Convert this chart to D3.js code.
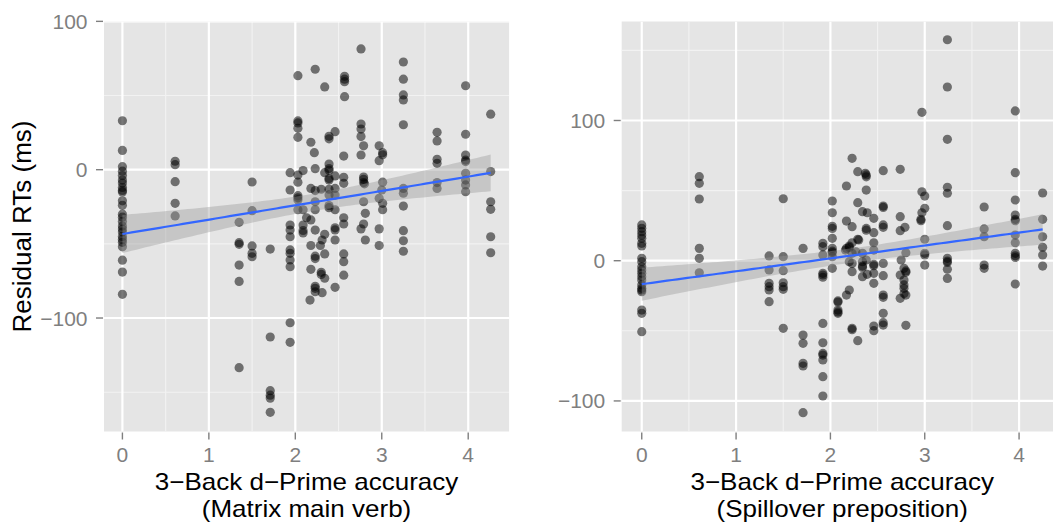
<!DOCTYPE html>
<html><head><meta charset="utf-8">
<script src="https://cdn.jsdelivr.net/npm/d3@7"></script>
<style>
body{margin:0;background:#fff}
svg{display:block}
text{font-family:"Liberation Sans",Arial,Helvetica,sans-serif}
</style>
</head><body>
<svg id="chart" width="1053" height="522"></svg>
<script>
// ---------- data ----------
const xTickValues = [0, 1, 2, 3, 4];
const yTickValues = [-100, 0, 100];
const xMinorValues = [0.5, 1.5, 2.5, 3.5];
const leftYMinor = [-150, -50, 50];
const rightYMinor = [-50, 50, 150];
const leftYDomain = [-176.5, 99.9];
const rightYDomain = [-121.8, 170.6];
const xTitleLine1 = "3\u2212Back d\u2212Prime accuracy";
const leftSubtitle = "(Matrix main verb)";
const rightSubtitle = "(Spillover preposition)";
const yTitle = "Residual RTs (ms)";

// [d-prime, residual RT] — Matrix main verb
const leftPoints = [
  [0,33],[0,13],[0,2],[0,-1],[0,-4],[0,-7],[0,-9],[0,-12],[0,-14],[0,-15],[0,-21],[0,-24],[0,-30],
  [0,-32],[0,-35],[0,-38],[0,-40],[0,-42],[0,-45],[0,-47],[0,-49],[0,-52],[0,-61],[0,-69],[0,-84],
  [0.61,5.7],[0.61,3.4],[0.61,-8.1],[0.61,-22.7],[0.61,-31.2],
  [1.35,-35.5],[1.35,-49.2],[1.35,-50.3],[1.35,-64.3],[1.35,-75.3],[1.35,-133.5],
  [1.5,-8.3],[1.5,-27.6],[1.5,-51.4],[1.5,-56.4],[1.5,-58.7],
  [1.71,-53.5],[1.71,-112.8],[1.71,-149],[1.71,-152],[1.71,-154],[1.71,-163.6],
  [1.94,-2],[1.94,-13.7],[1.94,-37.3],[1.94,-40.7],[1.94,-45.2],[1.94,-54.1],[1.94,-56.4],[1.94,-60.9],
  [1.94,-65.4],[1.94,-103.2],[1.94,-116.4],
  [2.03,63.4],[2.23,67.7],[2.34,55.8],[2.57,63],[2.57,61],[2.57,59.3],[2.57,49.2],[2.76,81.4],
  [2.03,32.9],[2.03,31.5],[2.03,27.9],[2.03,21.8],[2.18,18.5],[2.22,11.5],[2.39,22.5],[2.39,20.8],
  [2.46,25.6],[2.56,9.2],[2.76,30.8],[2.76,27.4],[2.76,22.3],[2.79,16.1],[2.76,9.9],[2.97,16.1],
  [3.01,11.5],[3.01,10],[2.97,6.1],
  [2.03,-8.4],[2.09,-0.6],[2.03,-3.6],[2.23,0.7],[2.34,-2.0],[2.39,3.8],[2.39,0.8],[2.39,-0.4],
  [2.39,-6.0],[2.39,-7.0],[2.46,-4.2],[2.56,-5.1],[2.56,-9.2],[2.79,-5.0],[2.79,-6.5],[2.79,-8.7],
  [2.8,-9.5],[3.01,-8.4],
  [2.03,-17.5],[2.03,-19],[2.03,-20.4],[2.18,-12.6],[2.23,-14.1],[2.3,-13.2],[2.39,-13.2],[2.46,-12.6],
  [2.46,-17.1],[2.39,-17.1],[3.0,-13.7],
  [2.03,-27.0],[2.09,-27.0],[2.13,-32.4],[2.18,-33.9],[2.23,-21.6],[2.23,-27.0],[2.39,-24.2],[2.39,-25.6],
  [2.46,-27.0],[2.56,-32.4],[2.56,-36.6],[2.79,-21.6],[2.81,-29.4],[2.79,-36.6],[2.76,-39.9],[2.81,-47.4],
  [2.97,-19.3],[3.01,-22.7],[3.01,-27.0],[2.97,-39.9],[2.97,-51.1],
  [2.09,-41.0],[2.09,-42.6],[2.09,-37.3],[2.23,-40.7],[2.34,-43.6],[2.31,-47.4],[2.29,-51.1],[2.18,-51.1],
  [2.46,-39.2],[2.46,-40.6],[2.46,-47.4],[2.56,-56.8],[2.56,-62.0],[2.56,-71.1],[2.34,-56.8],[2.23,-58.3],
  [2.23,-59.9],[2.18,-67.2],[2.3,-69.2],[2.3,-70.6],[2.34,-73.2],[2.23,-78.6],[2.23,-80.0],[2.23,-82.3],
  [2.31,-82.9],[2.46,-79.3],[2.17,-87.9],
  [3.25,72.6],[3.25,61.0],[3.25,50.4],[3.25,47.0],[3.25,30.3],[3.25,-12.6],[3.25,-15.9],[3.25,-24.5],
  [3.25,-41.1],[3.25,-47.9],[3.25,-55.0],
  [3.64,25.2],[3.64,19.4],[3.64,7.0],[3.64,4.3],[3.64,-8.7],[3.64,-12.6],
  [3.97,56.6],[3.97,23.9],[3.97,9.9],[3.97,6.5],[3.97,5.5],[3.97,-2.4],[3.97,-7.0],[3.97,-10.3],[3.97,-14.8],
  [4.26,37.4],[4.26,-1.3],[4.26,-21.6],[4.26,-26.7],[4.26,-45.2],[4.26,-56.0]
];

// [d-prime, residual RT] — Spillover preposition
const rightPoints = [
  [0,25.5],[0,23.1],[0,20.7],[0,18.3],[0,16.0],[0,12.4],[0,10.5],[0,1.7],[0,-0.7],[0,-4.3],[0,-6.6],
  [0,-9.0],[0,-11.4],[0,-13.8],[0,-17.3],[0,-19.7],[0,-20.9],[0,-22.1],[0,-35.2],[0,-37.5],[0,-50.6],
  [0.61,59.9],[0.61,55.2],[0.61,44.0],[0.61,8.8],[0.61,1.7],[0.61,-8.6],
  [1.35,3.4],[1.35,-6.6],[1.35,-16.1],[1.35,-18.5],[1.35,-20.9],[1.35,-29.2],
  [1.5,44.2],[1.5,2.9],[1.5,-7.1],[1.5,-15.7],[1.5,-18.5],[1.5,-20.4],[1.5,-48.2],
  [1.71,8.8],[1.71,-53.0],[1.71,-58.9],[1.71,-73.2],[1.71,-75.1],[1.71,-108.4],
  [1.92,12.4],[1.92,10.0],[1.92,4.1],[1.92,-9.0],[1.92,-10.2],[1.92,-11.8],[1.92,-44.7],[1.92,-58.5],
  [1.92,-66.1],[1.92,-67.3],[1.92,-70.8],[1.92,-82.7],[1.92,-96.5],
  [2.02,42.6],[2.02,34.2],[2.02,24.5],[2.02,23.0],[2.02,16.0],[2.02,8.8],[2.02,6.8],[2.02,5.8],[2.02,2.9],[2.02,-5.4],
  [2.08,-28.7],[2.08,-29.5],[2.08,-35.2],[2.08,-36.5],[2.08,-37.5],
  [2.23,73.0],[2.29,63.5],[2.37,62.3],[2.38,61.2],[2.38,59.8],[2.56,64.2],[2.74,65.2],[2.17,53.3],
  [2.38,50.4],[2.29,41.4],[2.56,38.0],[2.56,39.0],[2.97,49.2],[3.0,46.1],[3.0,37.4],[2.97,34.2],
  [2.96,28.5],[2.96,29.5],[2.34,35.0],[2.39,34.2],[2.46,30.2],[2.17,28.3],[2.23,24.3],[2.38,23.0],
  [2.38,21.8],[2.56,25.5],[2.56,23.8],[2.74,31.4],[2.79,23.8],[2.74,21.4],[2.46,20.0],[2.29,15.3],
  [2.23,12.8],[2.2,10.5],[2.2,9.5],[2.17,8.8],[2.3,14.8],[2.46,12.8],[3.0,15.3],[3.0,5.3],
  [2.8,5.7],[2.16,7.6],[2.23,5.3],[2.27,6.4],[2.34,5.3],[2.46,7.6],[2.2,-0.7],[2.23,-1.9],
  [2.23,-7.8],[2.34,-0.7],[2.34,-3.8],[2.34,-4.8],[2.38,0.5],[2.46,-2.6],[2.46,-3.6],[2.34,-11.4],
  [2.39,-9.7],[2.46,-9.0],[2.46,-16.1],[2.56,-1.9],[2.56,-10.7],[2.75,0.5],[2.74,-10.2],[2.78,-5.4],
  [2.8,-7.3],[2.8,-8.3],[2.78,-13.8],[2.78,-17.3],[2.78,-19.7],[2.78,-23.3],[2.8,-24.5],[2.74,-26.8],
  [3.0,4.1],[3.0,-3.1],[2.2,-20.9],[2.17,-24.5],[2.56,-24.5],[2.56,-26.1],[2.56,-37.5],[2.56,-44.2],
  [2.56,-45.9],[2.46,-46.6],[2.46,-49.9],[2.8,-46.1],[2.23,-48.2],[2.23,-49.2],[2.29,-57.0],
  [2.97,105.8],
  [3.24,157.6],[3.24,123.9],[3.24,86.6],[3.24,52.4],[3.24,48.1],[3.24,25.0],[3.24,1.7],[3.24,-0.2],
  [3.24,-1.2],[3.24,-6.1],[3.24,-12.6],
  [3.63,38.3],[3.63,22.7],[3.63,17.1],[3.63,-3.1],[3.63,-5.4],
  [3.96,106.8],[3.96,62.8],[3.96,43.3],[3.96,32.6],[3.96,29.5],[3.96,28.5],[3.96,18.3],[3.96,12.8],
  [3.96,5.3],[3.96,3.5],[3.96,2.3],[3.96,-16.6],
  [4.25,48.3],[4.25,29.5],[4.25,17.1],[4.25,9.6],[4.25,4.1],[4.25,-3.8]
];

// ---------- layout ----------
const svg = d3.select("#chart");
const panelTop = 21.5, panelBottom = 431.5;
const panels = [
  {id:"L", pts:leftPoints, x0:104, x1:509.1, yDom:leftYDomain, yMinor:leftYMinor, sub:leftSubtitle, yTitle:true},
  {id:"R", pts:rightPoints, x0:621.7, x1:1062.7, yDom:rightYDomain, yMinor:rightYMinor, sub:rightSubtitle, yTitle:false}
];
const tCrit = 1.972;
const gridMajor = "#ffffff", gridMinor = "#f2f2f2", tickCol = "#7f7f7f";

function linfit(pts){
  const n = pts.length;
  const xb = d3.mean(pts, d=>d[0]), yb = d3.mean(pts, d=>d[1]);
  let sxx=0, sxy=0;
  pts.forEach(d=>{sxx+=(d[0]-xb)**2; sxy+=(d[0]-xb)*(d[1]-yb);});
  const b = sxy/sxx, a = yb - b*xb;
  let sse=0; pts.forEach(d=>{sse+=(d[1]-a-b*d[0])**2;});
  const s = Math.sqrt(sse/(n-2));
  return {a,b,s,n,xb,sxx};
}

// title text: drawn at 24px, stretched horizontally to the width it has at 26px
function titleText(g, xPos, yPos, str){
  const t = g.append("text").attr("x", xPos).attr("y", yPos).attr("text-anchor", "middle")
    .attr("font-size", 26).attr("fill", "#000").text(str);
  const w = t.node().getComputedTextLength();
  t.attr("font-size", 24).attr("textLength", w).attr("lengthAdjust", "spacingAndGlyphs");
  return t;
}

panels.forEach(p=>{
  const xExt = d3.extent(p.pts, d=>d[0]);
  const pad = (xExt[1]-xExt[0])*0.05;
  const x = d3.scaleLinear().domain([xExt[0]-pad, xExt[1]+pad]).range([p.x0, p.x1]);
  const y = d3.scaleLinear().domain(p.yDom).range([panelBottom, panelTop]);
  const g = svg.append("g");
  const clipId = "clip"+p.id;
  svg.append("clipPath").attr("id", clipId).append("rect")
    .attr("x", p.x0).attr("y", panelTop).attr("width", p.x1-p.x0).attr("height", panelBottom-panelTop);
  g.append("rect").attr("x", p.x0).attr("y", panelTop).attr("width", p.x1-p.x0)
    .attr("height", panelBottom-panelTop).attr("fill", "#e5e5e5");
  const inner = g.append("g").attr("clip-path", `url(#${clipId})`);
  // minor grid
  inner.selectAll(".vmin").data(xMinorValues.filter(v=>v>x.domain()[0]&&v<x.domain()[1])).join("line")
    .attr("x1", d=>x(d)).attr("x2", d=>x(d)).attr("y1", panelTop).attr("y2", panelBottom)
    .attr("stroke", gridMinor).attr("stroke-width", 1.1);
  inner.selectAll(".hmin").data(p.yMinor).join("line")
    .attr("y1", d=>y(d)).attr("y2", d=>y(d)).attr("x1", p.x0).attr("x2", p.x1)
    .attr("stroke", gridMinor).attr("stroke-width", 1.1);
  // major grid
  inner.selectAll(".vmaj").data(xTickValues).join("line")
    .attr("x1", d=>x(d)).attr("x2", d=>x(d)).attr("y1", panelTop).attr("y2", panelBottom)
    .attr("stroke", gridMajor).attr("stroke-width", 2.2);
  inner.selectAll(".hmaj").data(yTickValues).join("line")
    .attr("y1", d=>y(d)).attr("y2", d=>y(d)).attr("x1", p.x0).attr("x2", p.x1)
    .attr("stroke", gridMajor).attr("stroke-width", 2.2);
  // points
  inner.selectAll("circle").data(p.pts).join("circle")
    .attr("cx", d=>x(d[0])).attr("cy", d=>y(d[1])).attr("r", 4.6)
    .attr("fill", "#000").attr("fill-opacity", 0.52);
  // smooth (lm fit with 95% confidence band)
  const f = linfit(p.pts);
  const xs = d3.range(80).map(i=>xExt[0]+(xExt[1]-xExt[0])*i/79);
  const band = xs.map(v=>{
    const fitv = f.a + f.b*v;
    const se = f.s*Math.sqrt(1/f.n + (v-f.xb)**2/f.sxx);
    return {v, lo:fitv - tCrit*se, hi:fitv + tCrit*se, fit:fitv};
  });
  inner.append("path").datum(band)
    .attr("d", d3.area().x(d=>x(d.v)).y0(d=>y(d.lo)).y1(d=>y(d.hi)))
    .attr("fill", "#999999").attr("fill-opacity", 0.4);
  inner.append("path").datum(band)
    .attr("d", d3.line().x(d=>x(d.v)).y(d=>y(d.fit)))
    .attr("fill", "none").attr("stroke", "#3366ff").attr("stroke-width", 2.2);

  // x axis ticks & labels
  g.selectAll(".xt").data(xTickValues).join("line")
    .attr("x1", d=>x(d)).attr("x2", d=>x(d)).attr("y1", panelBottom+1).attr("y2", panelBottom+8)
    .attr("stroke", tickCol).attr("stroke-width", 1.4);
  g.selectAll(".xl").data(xTickValues).join("text")
    .attr("x", d=>x(d)).attr("y", 462).attr("text-anchor", "middle")
    .attr("font-size", 21).attr("fill", tickCol).text(d=>d);
  // y axis ticks & labels
  g.selectAll(".yt").data(yTickValues).join("line")
    .attr("y1", d=>y(d)).attr("y2", d=>y(d)).attr("x1", p.x0-8).attr("x2", p.x0-1)
    .attr("stroke", tickCol).attr("stroke-width", 1.4);
  g.selectAll(".yl").data(yTickValues).join("text")
    .attr("x", p.x0-16.5).attr("y", d=>y(d)).attr("dy", "0.36em").attr("text-anchor", "end")
    .attr("font-size", 21).attr("fill", tickCol).text(d=>d<0 ? "\u2212"+Math.abs(d) : d);
  // titles
  const mid = (p.x0+p.x1)/2;
  titleText(g, mid, 489.5, xTitleLine1);
  titleText(g, mid, 516.5, p.sub);
  if (p.yTitle){
    g.append("text").attr("transform", `translate(31,${(panelTop+panelBottom)/2}) rotate(-90)`)
      .attr("text-anchor", "middle").attr("font-size", 26).attr("fill", "#000").text(yTitle);
  }
});
</script>
</body></html>
